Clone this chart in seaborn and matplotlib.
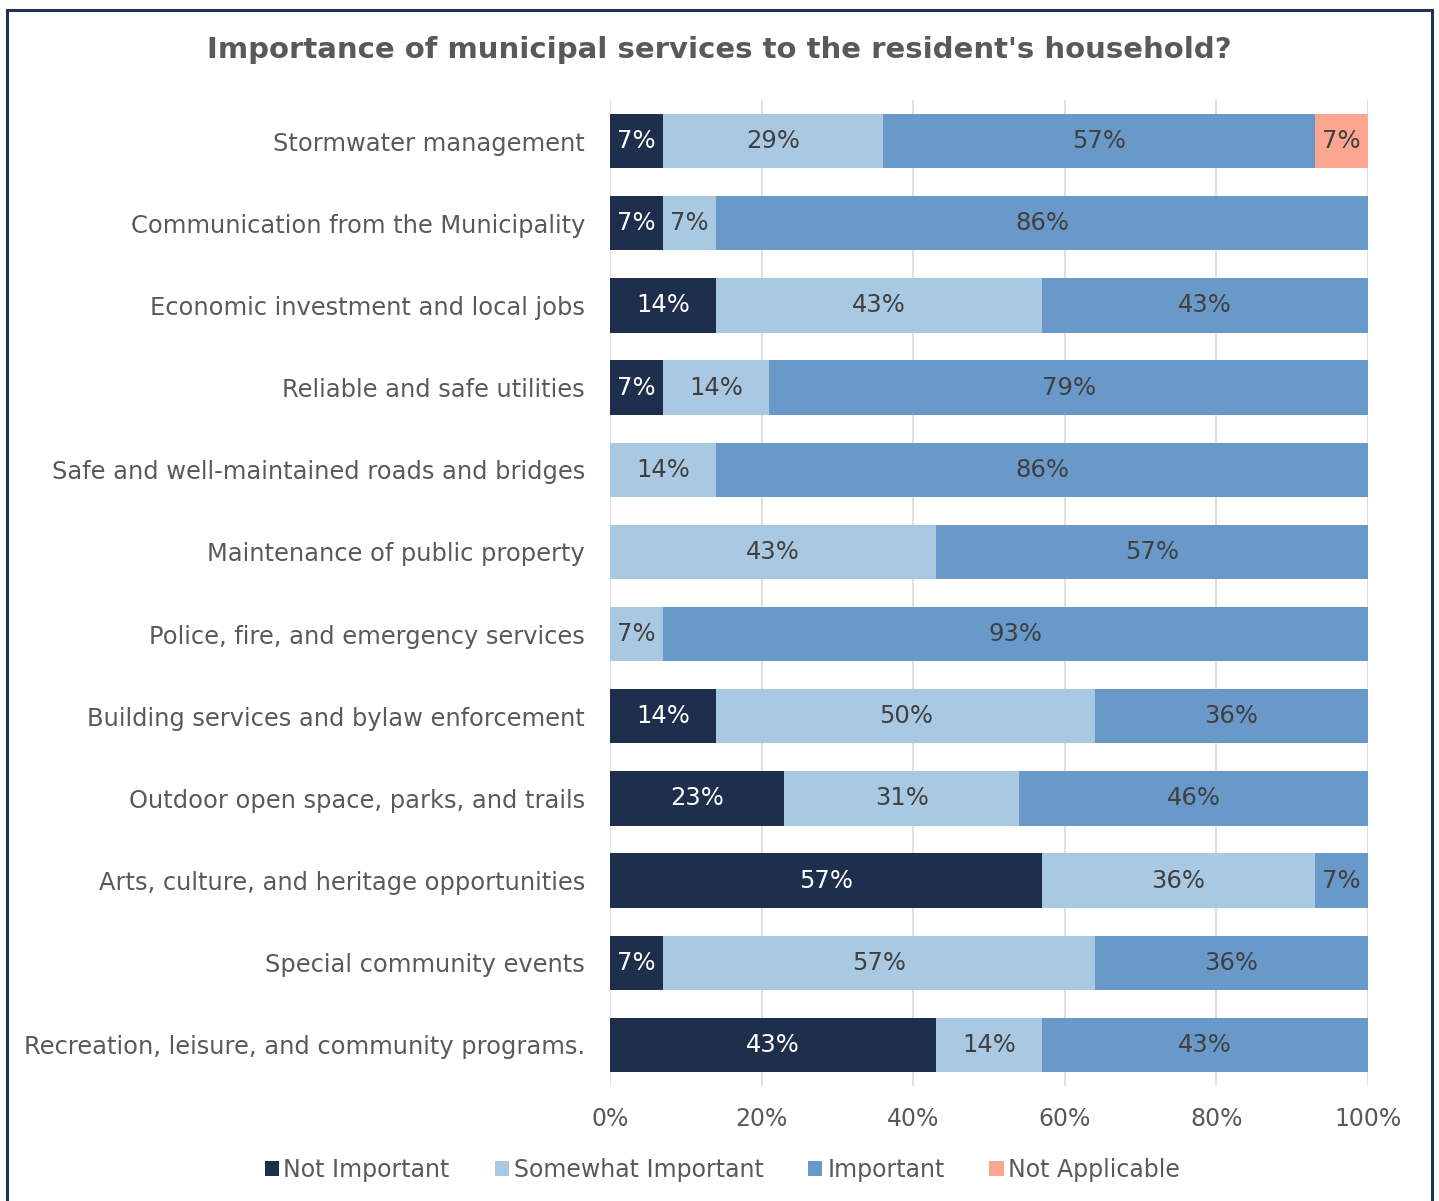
import matplotlib
matplotlib.use("Agg")
import matplotlib.pyplot as plt
from matplotlib.patches import Rectangle, Patch
import numpy as np
import pandas as pd
import seaborn as sns

# Survey services (top to bottom)
services = [
    "Stormwater management",
    "Communication from the Municipality",
    "Economic investment and local jobs",
    "Reliable and safe utilities",
    "Safe and well-maintained roads and bridges",
    "Maintenance of public property",
    "Police, fire, and emergency services",
    "Building services and bylaw enforcement",
    "Outdoor open space, parks, and trails",
    "Arts, culture, and heritage opportunities",
    "Special community events",
    "Recreation, leisure, and community programs.",
]

# Response shares (%)
not_important      = [7, 7, 14, 7, 0, 0, 0, 14, 23, 57, 7, 43]
somewhat_important = [29, 7, 43, 14, 14, 43, 7, 50, 31, 36, 57, 14]
important          = [57, 86, 43, 79, 86, 57, 93, 36, 46, 7, 36, 43]
not_applicable     = [7, 0, 0, 0, 0, 0, 0, 0, 0, 0, 0, 0]

series_names = ["Not Important", "Somewhat Important", "Important", "Not Applicable"]
series_colors = ["#1d2f4c", "#a9c9e3", "#6899c9", "#fca58f"]
label_colors = ["white", "#404040", "#404040", "#404040"]

sns.set_theme(style="white")
plt.rcParams["font.family"] = ["DejaVu Sans"]

fig = plt.figure(figsize=(14.39, 12.01), dpi=100)
ax = fig.add_axes([0.4239, 0.0958, 0.5268, 0.8209])

values = np.array([not_important, somewhat_important, important, not_applicable], dtype=float)
cum = np.cumsum(values, axis=0)

df = pd.DataFrame({"service": services})
# Draw cumulative totals from the outermost layer inward so each segment shows
for i in range(len(series_names) - 1, -1, -1):
    df["total"] = cum[i]
    sns.barplot(data=df, x="total", y="service", orient="h", color=series_colors[i],
                saturation=1, width=0.66, ax=ax, linewidth=0, zorder=2)

# Segment value labels
for i in range(len(series_names)):
    for j in range(len(services)):
        v = values[i, j]
        if v <= 0:
            continue
        center = cum[i, j] - v / 2
        ax.text(center, j, f"{int(v)}%", ha="center", va="center",
                fontsize=17.5, color=label_colors[i], zorder=3)

ax.set_xlim(0, 100)
ax.set_ylim(len(services) - 0.5, -0.5)
ax.set_xticks([0, 20, 40, 60, 80, 100])
ax.set_xticklabels([f"{t}%" for t in [0, 20, 40, 60, 80, 100]])
ax.grid(axis="x", color="#d9d9d9", linewidth=1.2, zorder=0)
ax.grid(axis="y", visible=False)
ax.set_axisbelow(True)
for s in ax.spines.values():
    s.set_visible(False)
ax.set_xlabel("")
ax.set_ylabel("")
ax.tick_params(axis="x", labelsize=17, colors="#595959", length=0, pad=15)
ax.tick_params(axis="y", labelsize=17.4, colors="#595959", length=0, pad=18)

fig.text(0.5, 0.958, "Importance of municipal services to the resident's household?",
         ha="center", va="center", fontsize=21, fontweight="bold", color="#595959")

handles = [Patch(facecolor=c, edgecolor="none") for c in series_colors]
fig.legend(handles, series_names, loc="center", bbox_to_anchor=(0.502, 0.026), ncol=4,
           frameon=False, fontsize=17, labelcolor="#595959", handlelength=0.6,
           handleheight=0.6, handletextpad=0.2, columnspacing=1.9)

# Outer frame
fig.patches.append(Rectangle((7 / 1439, -0.05), (1432 - 7) / 1439, 1 - 10 / 1201 + 0.05,
                             transform=fig.transFigure, fill=False, edgecolor="#1f3050",
                             linewidth=2.2, zorder=10))

fig.savefig("out.png", dpi=100)
